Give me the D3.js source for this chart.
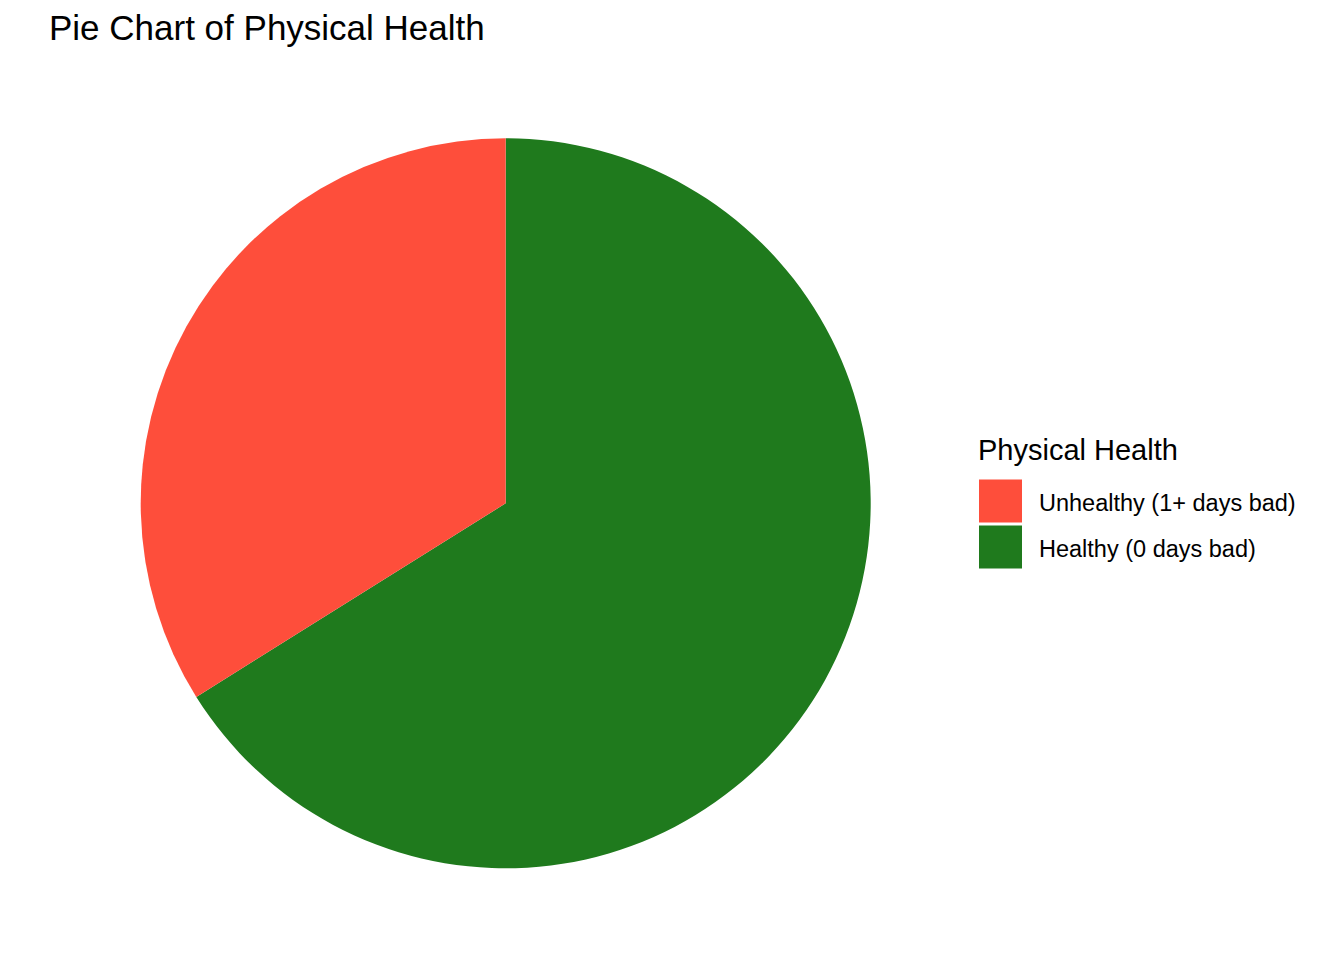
<!DOCTYPE html>
<html>
<head>
<meta charset="utf-8">
<script src="https://cdn.jsdelivr.net/npm/d3@7"></script>
<style>
  body { margin: 0; background: #fff; }
  text { font-family: "Liberation Sans", Arial, Helvetica, sans-serif; }
</style>
</head>
<body>
<div class="pie_chart"></div>
<script>
// share of respondents (percent)
var categories = ["Healthy (0 days bad)", "Unhealthy (1+ days bad)"];
var shares = [66.1, 33.9];
var legendOrder = ["Unhealthy (1+ days bad)", "Healthy (0 days bad)"];
var colours = ["#1F7A1D", "#FE4E3B"];

var width = 1344,
    height = 960;

var svg = d3.select(".pie_chart")
            .append("svg")
            .attr("width", width)
            .attr("height", height);

svg.append("text")
   .text("Pie Chart of Physical Health")
   .attr("x", 49)
   .attr("y", 40)
   .attr("font-size", "35px")
   .attr("fill", "black");

var colour = d3.scaleOrdinal()
               .domain(categories)
               .range(colours);

var pie = d3.pie()
            .sort(null)
            .value(function(d) { return d.value; });

var arc = d3.arc()
            .innerRadius(0)
            .outerRadius(365);

var data = categories.map(function(c, i) {
  return { name: c, value: shares[i] };
});

var g = svg.append("g")
           .attr("transform", "translate(505.7,503.3)");

g.selectAll("path")
 .data(pie(data))
 .enter()
 .append("path")
 .attr("d", arc)
 .attr("fill", function(d) { return colour(d.data.name); });

// legend
var legend = svg.append("g")
                .attr("transform", "translate(978,0)");

legend.append("text")
      .text("Physical Health")
      .attr("x", 0)
      .attr("y", 460)
      .attr("font-size", "29px")
      .attr("fill", "black");

var keys = legend.selectAll(".key")
                 .data(legendOrder)
                 .enter()
                 .append("g")
                 .attr("class", "key")
                 .attr("transform", function(d, i) {
                   return "translate(0," + (479.5 + i * 46) + ")";
                 });

keys.append("rect")
    .attr("x", 1)
    .attr("width", 43)
    .attr("height", 43)
    .attr("fill", function(d) { return colour(d); });

keys.append("text")
    .text(function(d) { return d; })
    .attr("x", 61)
    .attr("y", 31)
    .attr("font-size", "23.5px")
    .attr("fill", "black");
</script>
</body>
</html>
